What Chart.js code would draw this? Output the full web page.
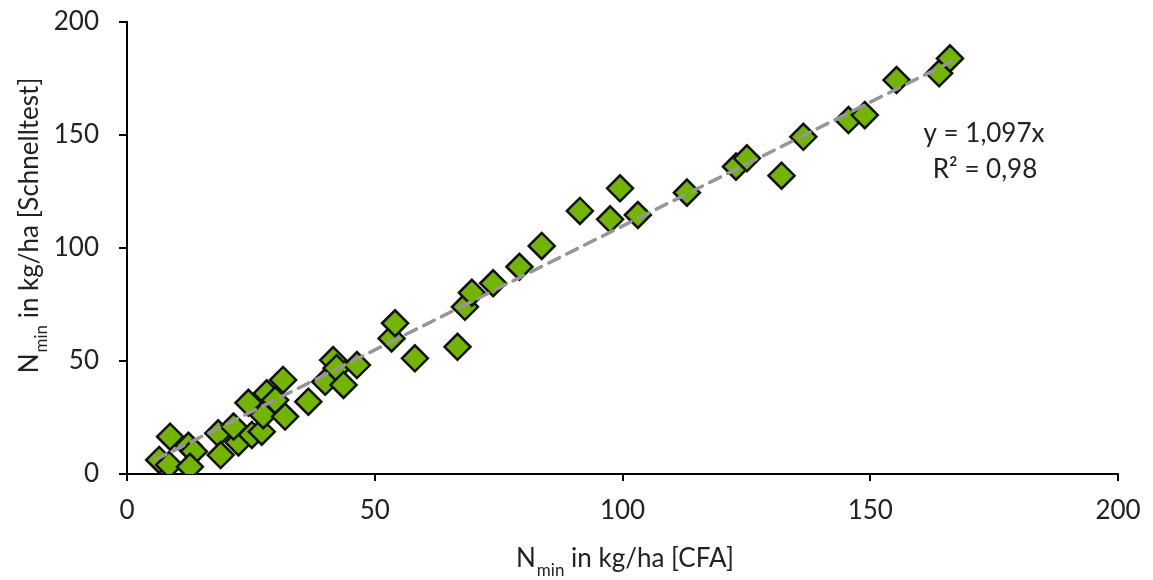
<!DOCTYPE html>
<html>
<head>
<meta charset="utf-8">
<script src="https://cdn.jsdelivr.net/npm/chart.js@4.4.1/dist/chart.umd.min.js"></script>
<style>
  html, body { margin: 0; padding: 0; background: #fff; }
  #wrap { width: 1153px; height: 580px; position: relative; }
</style>
</head>
<body>
<div id="wrap"><canvas id="nminChart"></canvas></div>
<script>
// N_min values: CFA lab method (x) vs. rapid test (y)
var cfaValues = [6.5, 8.7, 8.5, 12.4, 13.5, 12.7, 18.4, 18.9, 22.5, 21.5, 24.5, 25.2, 27.2, 28.2, 27.5,
    29.9, 31.5, 31.9, 36.6, 40.0, 41.6, 42.3, 43.7, 46.4, 53.4, 54.1, 58.1, 66.7, 68.2, 69.6,
    73.9, 79.2, 83.7, 91.4, 97.5, 99.5, 103.1, 113.0, 122.9, 125.1, 132.1, 136.5, 145.6, 148.9,
    155.3, 163.9, 166.1];
var schnelltestValues = [6.2, 16.5, 4.0, 12.5, 10.0, 3.2, 18.0, 8.4, 14.0, 21.0, 31.5, 17.3, 18.7, 35.7, 26.0,
    32.7, 41.6, 25.4, 32.0, 40.8, 50.4, 46.8, 39.4, 48.2, 60.0, 66.7, 51.2, 56.3, 74.0, 80.2,
    84.4, 91.7, 100.9, 116.4, 112.7, 126.4, 114.6, 124.5, 136.0, 139.7, 132.0, 149.2, 156.6, 158.8,
    174.3, 177.3, 183.9];

// linear trendline through origin (y = 1,097x), drawn over the data range
var trendX = [5.7, 166.3];
var trendY = [6.3, 182.4];

var axisTicks = [0, 50, 100, 150, 200];
var equationLines = ['y = 1,097x', 'R\u00B2 = 0,98'];

var FONT = 'Lato, "Open Sans", sans-serif';
var TEXT = '#222';

var points = cfaValues.map(function(v, i) { return { x: v, y: schnelltestValues[i] }; });
var trend = trendX.map(function(v, i) { return { x: v, y: trendY[i] }; });

// "N" + subscript "min" + rest, centred on x
function drawSubLabel(ctx, x, y, rest) {
    ctx.font = '26px ' + FONT;
    var wN = ctx.measureText('N').width;
    ctx.font = '17px ' + FONT;
    var wMin = ctx.measureText('min').width;
    ctx.font = '26px ' + FONT;
    var wRest = ctx.measureText(rest).width;
    var sx = x - (wN + wMin + wRest) / 2;
    ctx.textAlign = 'left';
    ctx.textBaseline = 'alphabetic';
    ctx.fillText('N', sx, y);
    ctx.font = '17px ' + FONT;
    ctx.fillText('min', sx + wN + 1, y + 9);
    ctx.font = '26px ' + FONT;
    ctx.fillText(rest, sx + wN + wMin + 1, y);
}

var labelsPlugin = {
    id: 'labelsPlugin',
    afterDraw: function(chart) {
        var ctx = chart.ctx;
        var area = chart.chartArea;
        ctx.save();
        ctx.fillStyle = TEXT;
        // x axis title
        drawSubLabel(ctx, (area.left + area.right) / 2 + 2, 567, ' in kg/ha [CFA]');
        // y axis title
        ctx.save();
        ctx.translate(38, 226);
        ctx.rotate(-Math.PI / 2);
        drawSubLabel(ctx, 0, 0, ' in kg/ha [Schnelltest]');
        ctx.restore();
        // trendline equation
        ctx.font = '26px ' + FONT;
        ctx.textAlign = 'center';
        ctx.textBaseline = 'middle';
        ctx.fillText(equationLines[0], 984, 134);
        ctx.fillText(equationLines[1], 985, 170);
        ctx.restore();
    }
};

var ctx = document.getElementById('nminChart').getContext('2d');
var chart = new Chart(ctx, {
    type: 'scatter',
    data: {
        datasets: [{
            label: 'Trendline',
            data: trend,
            type: 'line',
            showLine: true,
            borderColor: 'rgb(150, 150, 150)',
            borderWidth: 3.5,
            borderDash: [12, 8],
            borderCapStyle: 'round',
            pointRadius: 0,
            fill: false,
            order: 0
        }, {
            label: 'Nmin',
            data: points,
            pointStyle: 'rectRot',
            pointRadius: 13,
            pointHoverRadius: 13,
            backgroundColor: '#72B400',
            borderColor: '#111',
            borderWidth: 2.5,
            order: 1
        }]
    },
    options: {
        responsive: true,
        maintainAspectRatio: false,
        animation: false,
        layout: { padding: { top: 22, right: 35, left: 0, bottom: 0 } },
        scales: {
            x: {
                type: 'linear',
                min: 0,
                max: 200,
                afterBuildTicks: function(scale) {
                    scale.ticks = axisTicks.map(function(v) { return { value: v }; });
                },
                afterFit: function(scale) {
                    scale.height = 106;
                    scale.paddingLeft = 0;
                    scale.paddingRight = 0;
                },
                grid: { drawOnChartArea: false, color: '#000', lineWidth: 2, tickLength: 7 },
                border: { color: '#000', width: 2 },
                ticks: { color: TEXT, font: { family: FONT, size: 26 }, padding: 14 }
            },
            y: {
                type: 'linear',
                min: 0,
                max: 200,
                afterBuildTicks: function(scale) {
                    scale.ticks = axisTicks.map(function(v) { return { value: v }; });
                },
                afterFit: function(scale) {
                    scale.width = 127;
                    scale.paddingTop = 0;
                    scale.paddingBottom = 0;
                },
                grid: { drawOnChartArea: false, color: '#000', lineWidth: 2, tickLength: 8 },
                border: { color: '#000', width: 2 },
                ticks: { color: TEXT, font: { family: FONT, size: 26 }, padding: 20 }
            }
        },
        plugins: {
            legend: { display: false },
            tooltip: { enabled: false }
        }
    },
    plugins: [labelsPlugin]
});
</script>
</body>
</html>
